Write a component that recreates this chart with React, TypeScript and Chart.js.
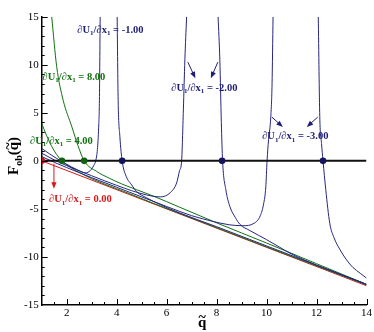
import React, { useEffect, useRef } from "react";
import { Chart, registerables } from "chart.js";

Chart.register(...registerables);

// ---------------- data ----------------
const xTickValues = [2, 4, 6, 8, 10, 12, 14];
const yTickValues = [-15, -10, -5, 0, 5, 10, 15];

const zeroQ = [1, 14];
const zeroF = [0, 0];

// dU1/dx1 = 0.00
const redQ = [1, 14];
const redF = [0, -13];

// dU1/dx1 = 4.00
const green4Q = [1.0, 1.2, 1.4, 1.6, 1.81, 2.1, 2.5, 3.0, 3.5, 4.5, 5.5, 7.0, 10.0, 14.0];
const green4F = [3.9, 2.6, 1.5, 0.65, 0, -0.6, -1.2, -1.85, -2.4, -3.4, -4.45, -5.95, -8.95, -12.9];

// dU1/dx1 = 8.00
const green8Q = [1.4, 1.6, 1.86, 2.2, 2.45, 2.7, 3.2, 3.7, 4.2, 4.8, 5.5, 6.5, 8.0, 10.0, 12.0, 14.0];
const green8F = [15, 9.8, 6.3, 3.6, 1.6, 0, -1.1, -1.8, -2.4, -3.0, -3.7, -4.8, -6.45, -8.55, -10.7, -12.85];

// dU1/dx1 = -1.00
const blue1aQ = [1.0, 1.3, 1.6, 2.0, 2.4, 2.75, 2.95, 3.08, 3.17, 3.23, 3.28, 3.31, 3.34];
const blue1aF = [1.3, 0.75, 0.25, -0.35, -0.9, -1.25, -1.0, -0.5, 0.1, 1.2, 3.5, 6.3, 15];
const blue1bQ = [4.02, 4.06, 4.13, 4.22, 4.38, 4.6, 4.8, 5.2, 5.7, 6.5, 8.0, 10.0, 12.0, 14.0];
const blue1bF = [15, 6.3, 2.5, 0, -1.6, -2.5, -3.2, -3.85, -4.5, -5.4, -6.85, -8.85, -10.85, -12.85];

// dU1/dx1 = -2.00
const blue2aQ = [1.0, 1.5, 2.0, 3.0, 4.0, 4.6, 5.2, 5.75, 6.15, 6.4, 6.52, 6.6, 6.67, 6.73, 6.8];
const blue2aF = [0.8, 0.1, -0.5, -1.55, -2.55, -3.1, -3.55, -3.75, -3.3, -2.3, -1.0, 0, 5.3, 10.5, 15];
const blue2bQ = [8.06, 8.13, 8.19, 8.24, 8.37, 8.53, 8.75, 8.93, 9.33, 10.0, 10.5, 10.93, 11.5, 12.0, 13.0, 14.0];
const blue2bF = [15, 10.5, 4, 0, -3, -4.74, -5.9, -6.6, -7.25, -8.2, -8.95, -9.6, -10.3, -10.85, -11.85, -12.85];

// dU1/dx1 = -3.00
const blue3aQ = [1.0, 1.5, 2.0, 3.0, 4.0, 5.0, 6.0, 7.0, 7.85, 8.5, 9.05, 9.5, 9.75, 9.88, 9.97, 10.02, 10.08, 10.17, 10.22, 10.26];
const blue3aF = [0.45, -0.15, -0.7, -1.75, -2.75, -3.75, -4.75, -5.7, -6.3, -6.65, -6.75, -6.5, -5.7, -4.5, -2.7, 0, 2.2, 4.6, 8, 15];
const blue3bQ = [12.07, 12.13, 12.2, 12.26, 12.37, 12.53, 12.7, 12.93, 13.2, 13.46, 13.75, 14.0];
const blue3bF = [15, 4.6, 1.8, 0, -3, -6.5, -8.0, -9.2, -10.3, -11.1, -11.7, -12.2];

const blueRootQ = [4.22, 8.22, 12.26];
const greenRootQ = [1.81, 2.7];
const redRootQ = [1];

const labelValues = ["-1.00", "8.00", "4.00", "-2.00", "-3.00", "0.00"];

// ---------------- styles ----------------
const BLUE = "#262680";
const BLUE_TXT = "#1e1e78";
const GREEN = "#127012";
const RED = "#d41a1a";
const SERIF = "'Liberation Serif', 'Times New Roman', serif";

// annotation placements (data coordinates of text centre)
const labelSpots = [
  { q: 3.75, f: 13.7, color: BLUE_TXT },
  { q: 2.29, f: 8.8, color: GREEN },
  { q: 1.79, f: 2.18, color: GREEN },
  { q: 7.51, f: 7.68, color: BLUE_TXT },
  { q: 11.15, f: 2.6, color: BLUE_TXT },
  { q: 2.55, f: -3.94, color: RED },
];

const arrowSpots = [
  { q1: 1.49, f1: -0.3, q2: 1.49, f2: -2.9, color: RED },
  { q1: 6.85, f1: 10.27, q2: 7.15, f2: 8.6, color: BLUE_TXT },
  { q1: 8.05, f1: 10.27, q2: 7.77, f2: 8.6, color: BLUE_TXT },
  { q1: 10.21, f1: 4.56, q2: 10.65, f2: 3.53, color: BLUE_TXT },
  { q1: 12.05, f1: 4.56, q2: 11.61, f2: 3.53, color: BLUE_TXT },
];

const pts = (q: number[], f: number[]) => q.map((x, i) => ({ x, y: f[i] }));

const lineDs = (q: number[], f: number[], color: string, width = 1) => ({
  data: pts(q, f),
  borderColor: color,
  backgroundColor: color,
  borderWidth: width,
  pointRadius: 0,
  pointHoverRadius: 0,
  showLine: true,
  fill: false,
  cubicInterpolationMode: "monotone" as const,
});

const dotDs = (q: number[], color: string) => ({
  data: q.map((x) => ({ x, y: 0 })),
  pointRadius: 3.3,
  pointBackgroundColor: color,
  pointBorderColor: color,
  pointBorderWidth: 0,
  showLine: false,
});

function drawLabel(ctx: CanvasRenderingContext2D, cx: number, cy: number, value: string, color: string) {
  const big = `bold 10.5px ${SERIF}`;
  const small = `bold 7px ${SERIF}`;
  const parts = [
    { t: "\u2202U", f: big, dy: 0 },
    { t: "1", f: small, dy: 2.5 },
    { t: "/\u2202x", f: big, dy: 0 },
    { t: "1", f: small, dy: 2.5 },
    { t: " = " + value, f: big, dy: 0 },
  ];
  let total = 0;
  const widths = parts.map((p) => {
    ctx.font = p.f;
    const w = ctx.measureText(p.t).width;
    total += w;
    return w;
  });
  let x = cx - total / 2;
  const base = cy + 3.6;
  ctx.fillStyle = color;
  ctx.textAlign = "left";
  ctx.textBaseline = "alphabetic";
  parts.forEach((p, i) => {
    ctx.font = p.f;
    ctx.fillText(p.t, x, base + p.dy);
    x += widths[i];
  });
}

function drawArrow(ctx: CanvasRenderingContext2D, x1: number, y1: number, x2: number, y2: number, color: string) {
  const ang = Math.atan2(y2 - y1, x2 - x1);
  const head = 6.5;
  const half = 2.6;
  ctx.strokeStyle = color;
  ctx.fillStyle = color;
  ctx.lineWidth = 1;
  ctx.beginPath();
  ctx.moveTo(x1, y1);
  ctx.lineTo(x2 - Math.cos(ang) * head * 0.8, y2 - Math.sin(ang) * head * 0.8);
  ctx.stroke();
  ctx.beginPath();
  ctx.moveTo(x2, y2);
  ctx.lineTo(x2 - Math.cos(ang) * head - Math.sin(ang) * half, y2 - Math.sin(ang) * head + Math.cos(ang) * half);
  ctx.lineTo(x2 - Math.cos(ang) * head + Math.sin(ang) * half, y2 - Math.sin(ang) * head - Math.cos(ang) * half);
  ctx.closePath();
  ctx.fill();
}

const decorPlugin = {
  id: "decor",
  afterDatasetsDraw(chart: any) {
    const { ctx, scales } = chart;
    const xs = scales.x;
    const ys = scales.y;
    const left = xs.getPixelForValue(1);
    const bottom = ys.getPixelForValue(-15);
    ctx.save();
    // inward tick marks
    ctx.strokeStyle = "#000";
    ctx.lineWidth = 1;
    ctx.beginPath();
    for (let v = 1.5; v <= 14.001; v += 0.5) {
      const isMajor = xTickValues.includes(Math.round(v * 10) / 10);
      const px = Math.round(xs.getPixelForValue(v)) + 0.5;
      const len = isMajor ? 6 : 3;
      ctx.moveTo(px, bottom);
      ctx.lineTo(px, bottom - len);
    }
    for (let v = -14; v <= 15; v += 1) {
      const isMajor = yTickValues.includes(v);
      const py = Math.round(ys.getPixelForValue(v)) + 0.5;
      const len = isMajor ? 6 : 3;
      ctx.moveTo(left, py);
      ctx.lineTo(left + len, py);
    }
    ctx.stroke();

    // annotations
    labelSpots.forEach((s, i) => {
      drawLabel(ctx, xs.getPixelForValue(s.q), ys.getPixelForValue(s.f), labelValues[i], s.color);
    });
    arrowSpots.forEach((a) => {
      drawArrow(
        ctx,
        xs.getPixelForValue(a.q1),
        ys.getPixelForValue(a.f1),
        xs.getPixelForValue(a.q2),
        ys.getPixelForValue(a.f2),
        a.color
      );
    });

    // x title  q~
    ctx.fillStyle = "#000";
    ctx.textAlign = "center";
    ctx.textBaseline = "alphabetic";
    const xc = (xs.left + xs.right) / 2 - 2;
    ctx.font = `bold 15px ${SERIF}`;
    ctx.fillText("q", xc, 327);
    ctx.font = `bold 14px ${SERIF}`;
    ctx.fillText("~", xc, 322);

    // y title  F_ob(q~)
    ctx.save();
    ctx.translate(18, 156);
    ctx.rotate(-Math.PI / 2);
    ctx.textAlign = "left";
    const bigF = `bold 15px ${SERIF}`;
    const subF = `bold 10px ${SERIF}`;
    const parts = [
      { t: "F", f: bigF, dy: 0 },
      { t: "ob", f: subF, dy: 3.5 },
      { t: "(", f: bigF, dy: 0 },
      { t: "q", f: bigF, dy: 0 },
      { t: ")", f: bigF, dy: 0 },
    ];
    let total = 0;
    const w = parts.map((p) => {
      ctx.font = p.f;
      const m = ctx.measureText(p.t).width;
      total += m;
      return m;
    });
    let u = -total / 2;
    parts.forEach((p, i) => {
      ctx.font = p.f;
      ctx.fillText(p.t, u, p.dy);
      if (p.t === "q") {
        ctx.font = `bold 14px ${SERIF}`;
        ctx.textAlign = "center";
        ctx.fillText("~", u + w[i] / 2, -5);
        ctx.textAlign = "left";
      }
      u += w[i];
    });
    ctx.restore();
    ctx.restore();
  },
};

export default function App() {
  const ref = useRef<HTMLCanvasElement | null>(null);
  useEffect(() => {
    if (!ref.current) return;
    const chart = new Chart(ref.current, {
      type: "scatter",
      data: {
        datasets: [
          dotDs(blueRootQ, "#14145e"),
          dotDs(greenRootQ, "#0e640e"),
          dotDs(redRootQ, "#c81212"),
          lineDs(zeroQ, zeroF, "#111", 2),
          lineDs(blue1aQ, blue1aF, BLUE),
          lineDs(blue1bQ, blue1bF, BLUE),
          lineDs(blue2aQ, blue2aF, BLUE),
          lineDs(blue2bQ, blue2bF, BLUE),
          lineDs(blue3aQ, blue3aF, BLUE),
          lineDs(blue3bQ, blue3bF, BLUE),
          lineDs(green8Q, green8F, GREEN),
          lineDs(green4Q, green4F, GREEN),
          lineDs(redQ, redF, RED),
        ] as any,
      },
      options: {
        responsive: false,
        animation: false,
        devicePixelRatio: 1,
        events: [],
        layout: { padding: { left: 0, right: 7.3, top: 16.7, bottom: 0 } },
        plugins: { legend: { display: false }, tooltip: { enabled: false } },
        scales: {
          x: {
            type: "linear",
            min: 1,
            max: 14,
            grid: { display: false, drawTicks: false },
            border: { display: true, color: "#000", width: 1.5 },
            afterBuildTicks: (s: any) => {
              s.ticks = xTickValues.map((v) => ({ value: v }));
            },
            afterFit: (s: any) => {
              s.height = 27;
            },
            ticks: {
              color: "#000",
              padding: 2,
              maxRotation: 0,
              font: { family: SERIF, size: 11 },
              callback: (v: any) => String(v),
            },
          },
          y: {
            type: "linear",
            min: -15,
            max: 15,
            grid: { display: false, drawTicks: false },
            border: { display: true, color: "#000", width: 1.5 },
            afterBuildTicks: (s: any) => {
              s.ticks = yTickValues.map((v) => ({ value: v }));
            },
            afterFit: (s: any) => {
              s.width = 41.7;
            },
            ticks: {
              color: "#000",
              padding: 3,
              font: { family: SERIF, size: 11 },
              callback: (v: any) => String(v),
            },
          },
        },
      },
      plugins: [decorPlugin],
    });
    return () => chart.destroy();
  }, []);
  return (
    <div style={{ position: "fixed", left: 0, top: 0, width: 374, height: 332, background: "#fff" }}>
      <canvas ref={ref} width={374} height={332} style={{ width: 374, height: 332, display: "block" }} />
    </div>
  );
}
